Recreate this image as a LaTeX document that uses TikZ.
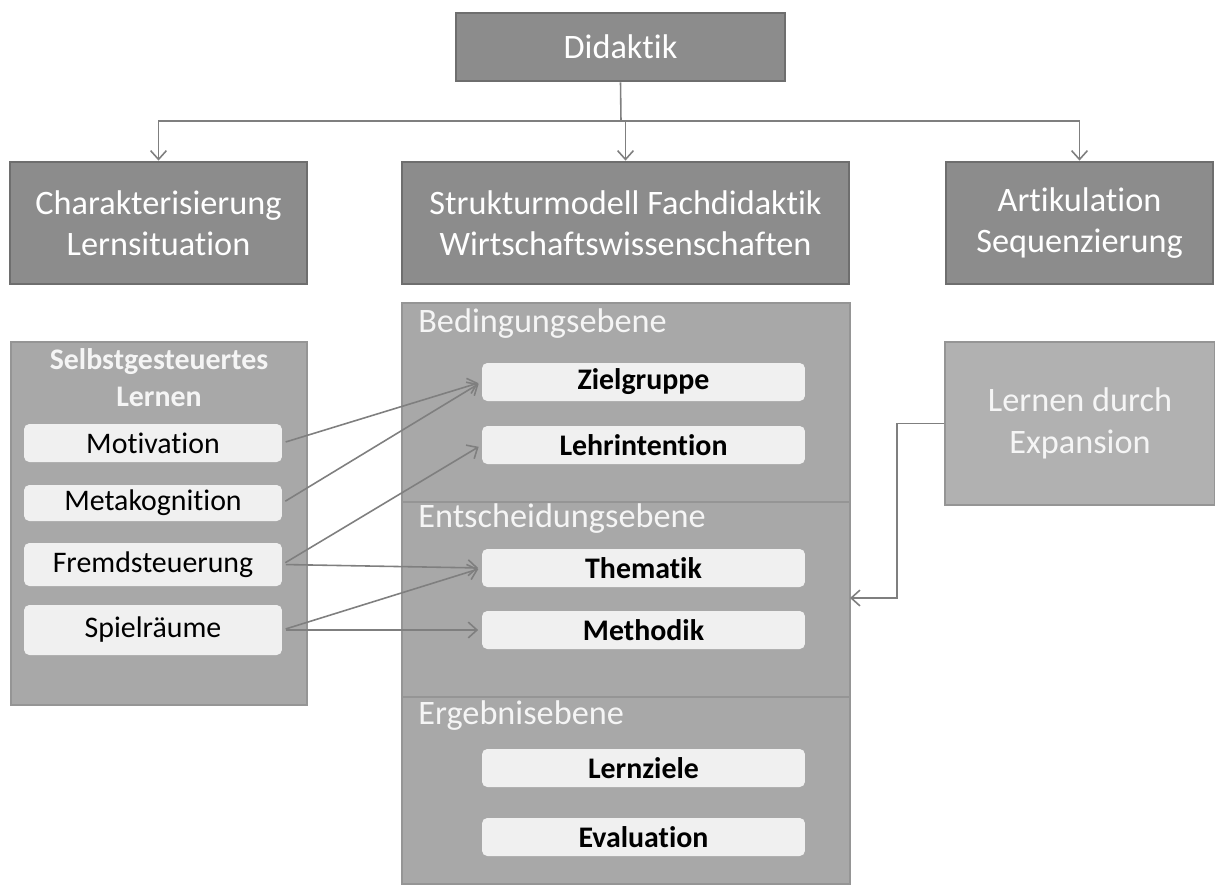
\documentclass[tikz,border=0pt]{standalone}
\usepackage{fontspec}
\setmainfont[Ligatures=NoCommon]{Carlito}
\usepackage{tikz}
\usetikzlibrary{arrows.meta}

\definecolor{darkbox}{HTML}{8C8C8C}
\definecolor{darkline}{HTML}{6E6E6E}
\definecolor{panelfill}{HTML}{A8A8A8}
\definecolor{panelline}{HTML}{959595}
\definecolor{itemfill}{HTML}{F0F0F0}
\definecolor{connline}{HTML}{7F7F7F}

\begin{document}
\begin{tikzpicture}[x=0.02cm, y=-0.02cm,
    topbox/.style={draw=darkline, line width=1.6pt, fill=darkbox, text=white, align=center,
        inner sep=0pt, font=\fontsize{19.5}{23.5}\selectfont},
    panel/.style={draw=panelline, line width=1.1pt, fill=panelfill, inner sep=0pt},
    level/.style={text=white!96!black, inner sep=0pt, anchor=base west, font=\fontsize{19.5}{23.5}\selectfont},
    item/.style={fill=itemfill, rounded corners=3pt, inner sep=0pt, minimum width=6.46cm,
        minimum height=0.76cm, font=\fontsize{17}{20}\selectfont\bfseries},
    smallitem/.style={fill=itemfill, rounded corners=3pt, inner sep=0pt, minimum width=5.16cm,
        font=\fontsize{17}{20}\selectfont},
    conn/.style={draw=connline, line width=0.9pt},
    tip/.style={-{Straight Barb[length=5pt,width=9pt]}}]

    \useasboundingbox (0,0) rectangle (1215,886);

    % Top level
    \node[topbox, minimum width=6.58cm, minimum height=1.36cm] (didaktik) at (620.5,47) {Didaktik};
    \node[topbox, minimum width=5.94cm, minimum height=2.44cm] (charakt) at (158.5,223) {Charakterisierung\\Lernsituation};
    \node[topbox, minimum width=8.94cm, minimum height=2.44cm] (struktur) at (625.5,223) {Strukturmodell Fachdidaktik\\Wirtschaftswissenschaften};
    \node[topbox, minimum width=5.34cm, minimum height=2.44cm] (artik) at (1079.5,223) {Artikulation\\Sequenzierung};

    \coordinate (split) at (621,121);
    \draw[conn] (didaktik.south) -- (split);
    \draw[conn, tip] (split) -| (charakt.north);
    \draw[conn, tip] (split) -| (struktur.north);
    \draw[conn, tip] (split) -| (artik.north);

    % Selbstgesteuertes Lernen
    \node[panel, minimum width=5.92cm, minimum height=7.26cm] (selbst) at (159,523.5) {};
    \node[text=white!96!black, align=center, inner sep=0pt, font=\fontsize{17}{21}\selectfont\bfseries] (selbsttitle) at (159,378) {Selbstgesteuertes\\Lernen};
    \node[smallitem, minimum height=0.76cm] (motiv) at (153,443) {Motivation};
    \node[smallitem, minimum height=0.72cm] (meta) at (153,503) {Metakognition};
    \node[smallitem, minimum height=0.86cm] (fremd) at (153,564.5) {Fremdsteuerung};
    \node[smallitem, minimum height=1.0cm] (spiel) at (153,630) {Spielräume};

    % Strukturmodell
    \node[panel, minimum width=8.96cm, minimum height=3.98cm] (bed) at (626,402.5) {};
    \node[panel, minimum width=8.96cm, minimum height=3.9cm] (ent) at (626,599.5) {};
    \node[panel, minimum width=8.96cm, minimum height=3.74cm] (erg) at (626,790.5) {};
    \node[level] (bedlabel) at (418,332) {Bedingungsebene};
    \node[level] (entlabel) at (418,527) {Entscheidungsebene};
    \node[level] (erglabel) at (418,724) {Ergebnisebene};

    \node[item] (ziel) at (643.5,382) {Zielgruppe};
    \node[item] (lehr) at (643.5,445) {Lehrintention};
    \node[item] (them) at (643.5,568) {Thematik};
    \node[item] (meth) at (643.5,630) {Methodik};
    \node[item] (lernz) at (643.5,768) {Lernziele};
    \node[item] (eval) at (643.5,837) {Evaluation};

    % Lernen durch Expansion
    \node[panel, fill=panelfill!90!white, minimum width=5.4cm, minimum height=3.26cm, text=white!96!black,
        align=center, font=\fontsize{19.5}{23.5}\selectfont] (expansion) at (1080,423.5) {Lernen durch\\Expansion};

    % Arrows
    \draw[conn, tip, shorten <=2pt, shorten >=2pt] (motiv.east) -- (ziel.west);
    \draw[conn, tip, shorten <=2pt, shorten >=2pt] (meta.east) -- (ziel.west);
    \draw[conn, tip, shorten <=2pt, shorten >=2pt] (fremd.east) -- (lehr.west);
    \draw[conn, tip, shorten <=2pt, shorten >=2pt] (fremd.east) -- (them.west);
    \draw[conn, tip, shorten <=2pt, shorten >=2pt] (spiel.east) -- (them.west);
    \draw[conn, tip, shorten <=2pt, shorten >=2pt] (spiel.east) -- (meth.west);

    \coordinate (entry) at (850,598);
    \draw[conn, tip] (expansion.west) -- ++(-47,0) |- (entry);
\end{tikzpicture}
\end{document}
